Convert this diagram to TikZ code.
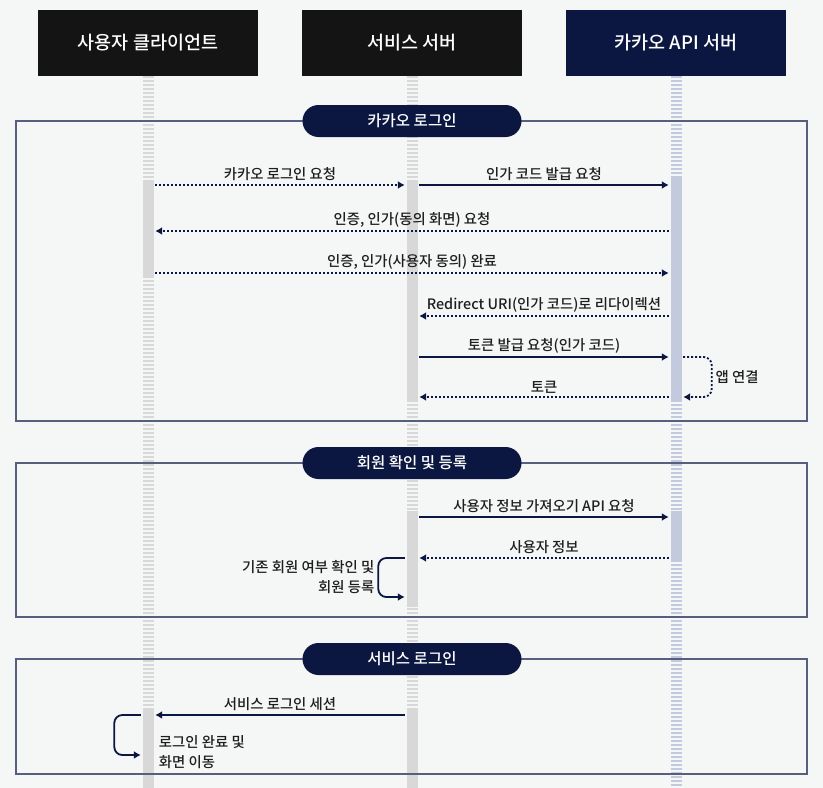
\documentclass[tikz,border=0pt]{standalone}
\usepackage{fontspec}
\setmainfont{Noto Sans CJK KR}[UprightFont=* Medium]
\usetikzlibrary{arrows.meta,positioning,calc}
\definecolor{navy}{HTML}{0B1740}
\definecolor{hdrblack}{HTML}{141414}
\definecolor{bgpaper}{HTML}{F5F7F7}
\definecolor{framegray}{HTML}{56607E}
\definecolor{barGray}{HTML}{D8D8D8}
\definecolor{barBlue}{HTML}{C4CADD}
\definecolor{textdark}{HTML}{1E1E1E}
\tikzset{
	header/.style={fill=#1, text=white, minimum width=220pt, minimum height=66pt, inner sep=0pt,
			font=\fontsize{18.5}{20}\selectfont},
	lifeline/.style={draw=#1, line width=11pt, dash pattern=on 2pt off 2pt},
	actbar/.style={fill=#1, draw=none, minimum width=11pt, inner sep=0pt, anchor=north},
	pill/.style={fill=navy, text=white, rounded corners=16pt, minimum width=219pt, minimum height=32pt,
			inner sep=0pt, font=\fontsize{15.5}{17}\selectfont},
	groupframe/.style={draw=framegray, line width=1.3pt},
	msg/.style={color=navy, line width=1.8pt, shorten <=1.5pt, shorten >=1.5pt,
			-{Latex[length=7pt,width=8pt]}},
	reply/.style={msg, dash pattern=on 2pt off 2pt},
	lbl/.style={text=textdark, font=\fontsize{14.4}{20}\selectfont, inner sep=3pt}
}
\begin{document}
\begin{tikzpicture}[x=1pt,y=-1pt]
	\fill[bgpaper] (0,0) rectangle (823,788);
	\useasboundingbox (0,0) rectangle (823,788);

	\node[header=hdrblack] (client) at (148,43) {사용자 클라이언트};
	\node[header=hdrblack] (server) at (412,43) {서비스 서버};
	\node[header=navy] (kakao) at (676,43) {카카오 API 서버};

	\draw[lifeline=barGray] (client.south) -- (client.south |- 0,788);
	\draw[lifeline=barGray] (server.south) -- (server.south |- 0,788);
	\draw[lifeline=barBlue] (kakao.south) -- (kakao.south |- 0,788);

	\node[actbar=barGray, minimum height=98pt] (clbarA) at (148,180) {};
	\node[actbar=barGray, minimum height=80pt] (clbarC) at (148,708) {};
	\node[actbar=barGray, minimum height=222pt] (svbarA) at (412,180) {};
	\node[actbar=barGray, minimum height=96pt] (svbarB) at (412,511) {};
	\node[actbar=barGray, minimum height=80pt] (svbarC) at (412,708) {};
	\node[actbar=barBlue, minimum height=224pt] (kkbarA) at (676,178) {};
	\node[actbar=barBlue, minimum height=50pt] (kkbarB) at (676,511) {};

	\draw[groupframe] (16,121) rectangle (807,421);
	\draw[groupframe] (16,463) rectangle (807,617);
	\draw[groupframe] (16,659) rectangle (807,774);
	\node[pill] (loginKakao) at (412,121) {카카오 로그인};
	\node[pill] (member) at (412,463) {회원 확인 및 등록};
	\node[pill] (loginService) at (412,659) {서비스 로그인};

	\draw[reply] (clbarA.east |- 0,185) -- node[lbl,above] {카카오 로그인 요청} (svbarA.west |- 0,185);
	\draw[msg] (svbarA.east |- 0,185) -- node[lbl,above] {인가 코드 발급 요청} (kkbarA.west |- 0,185);
	\draw[reply] (kkbarA.west |- 0,231) -- node[lbl,above] {인증, 인가(동의 화면) 요청} (clbarA.east |- 0,231);
	\draw[reply] (clbarA.east |- 0,273) -- node[lbl,above] {인증, 인가(사용자 동의) 완료} (kkbarA.west |- 0,273);
	\draw[reply] (kkbarA.west |- 0,316) -- node[lbl,above] {Redirect URI(인가 코드)로 리다이렉션} (svbarA.east |- 0,316);
	\draw[msg] (svbarA.east |- 0,357) -- node[lbl,above] {토큰 발급 요청(인가 코드)} (kkbarA.west |- 0,357);
	\draw[reply] (kkbarA.west |- 0,397) -- node[lbl,above] {토큰} (svbarA.east |- 0,397);
	\draw[reply, rounded corners=8pt] (kkbarA.east |- 0,357) -- ++(30,0)
		|- node[lbl,pos=0.25,right] {앱 연결} (kkbarA.east |- 0,397);

	\draw[msg] (svbarB.east |- 0,517) -- node[lbl,above] {사용자 정보 가져오기 API 요청} (kkbarB.west |- 0,517);
	\draw[reply] (kkbarB.west |- 0,558) -- node[lbl,above] {사용자 정보} (svbarB.east |- 0,558);
	\draw[msg, rounded corners=8pt] (svbarB.west |- 0,558) -- ++(-28,0)
		|- node[lbl,pos=0.25,left,align=right] {기존 회원 여부 확인 및\\회원 등록} (svbarB.west |- 0,597);

	\draw[msg] (svbarC.west |- 0,715) -- node[lbl,above] {서비스 로그인 세션} (clbarC.east |- 0,715);
	\draw[msg, rounded corners=8pt] (clbarC.west |- 0,715) -- ++(-28,0) |- (clbarC.west |- 0,755);
	\node[lbl, anchor=west, align=left] (loginDone) at ($(clbarC.east |- 0,752)+(2,0)$) {로그인 완료 및\\화면 이동};
\end{tikzpicture}
\end{document}
